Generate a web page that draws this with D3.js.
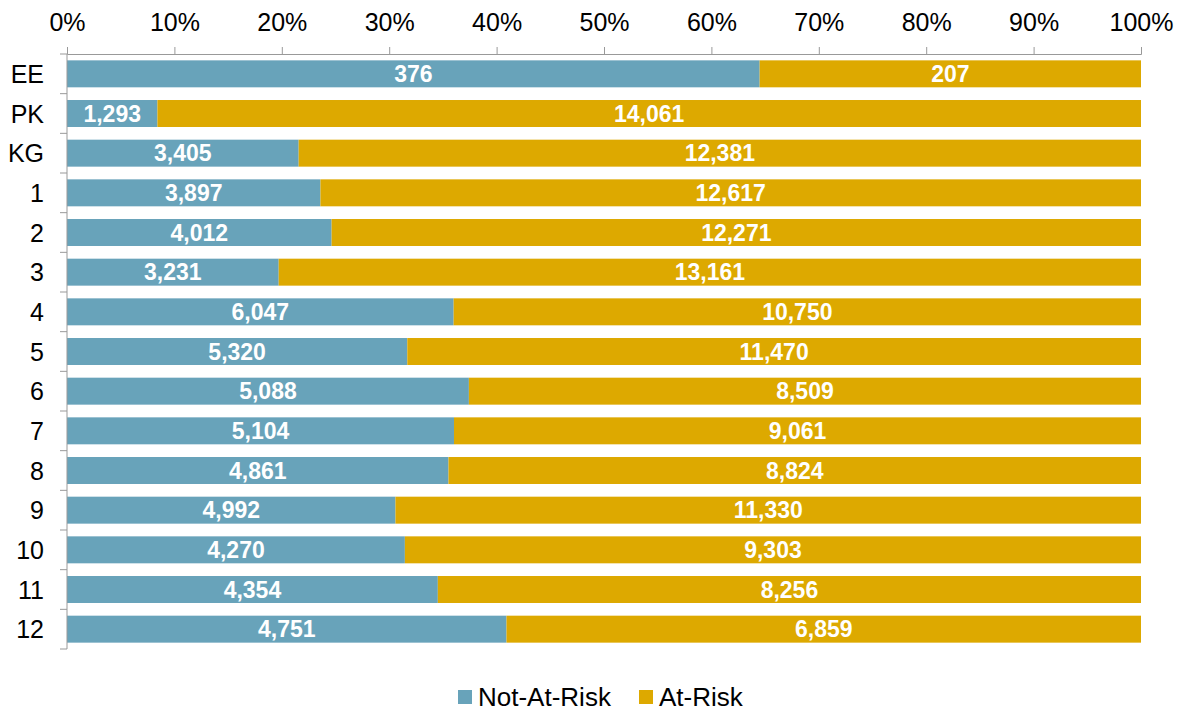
<!DOCTYPE html>
<html>
<head>
<meta charset="utf-8">
<script src="https://cdn.jsdelivr.net/npm/d3@7"></script>
<style>
  body { margin: 0; background: #fff; }
  svg text { font-family: "Liberation Sans", Arial, sans-serif; }
</style>
</head>
<body>
<svg id="chart" width="1181" height="713"></svg>
<script>
// grades and counts
var grades = ["EE", "PK", "KG", "1", "2", "3", "4", "5", "6", "7", "8", "9", "10", "11", "12"];
var notAtRisk = [376, 1293, 3405, 3897, 4012, 3231, 6047, 5320, 5088, 5104, 4861, 4992, 4270, 4354, 4751];
var atRisk = [207, 14061, 12381, 12617, 12271, 13161, 10750, 11470, 8509, 9061, 8824, 11330, 9303, 8256, 6859];
var seriesNames = ["Not-At-Risk", "At-Risk"];
var colors = ["#68A3BA", "#DDA900"];
var pctTicks = [0, 0.1, 0.2, 0.3, 0.4, 0.5, 0.6, 0.7, 0.8, 0.9, 1];

var svg = d3.select("#chart");
var plotL = 67, plotR = 1141, plotT = 54, plotB = 649;

var x = d3.scaleLinear().domain([0, 1]).range([plotL, plotR]);
var y = d3.scaleBand().domain(grades).range([plotT, plotB]).paddingInner(0.32).paddingOuter(0.16);

/* build rows with shares for stacking */
var rows = grades.map(function(g, i) {
  var tot = notAtRisk[i] + atRisk[i];
  return { grade: g, vals: [notAtRisk[i], atRisk[i]], shares: [notAtRisk[i] / tot, atRisk[i] / tot] };
});

var segs = [];
rows.forEach(function(r) {
  var x0 = 0;
  for (var k = 0; k < 2; k++) {
    segs.push({ grade: r.grade, k: k, v: r.vals[k], s0: x0, s1: x0 + r.shares[k] });
    x0 += r.shares[k];
  }
});

svg.selectAll("rect.bar")
  .data(segs)
  .enter().append("rect")
  .attr("class", "bar")
  .attr("x", function(d) { return x(d.s0); })
  .attr("width", function(d) { return x(d.s1) - x(d.s0); })
  .attr("y", function(d) { return y(d.grade); })
  .attr("height", y.bandwidth())
  .attr("fill", function(d) { return colors[d.k]; });

svg.selectAll("text.val")
  .data(segs)
  .enter().append("text")
  .attr("class", "val")
  .attr("x", function(d) { return (x(d.s0) + x(d.s1)) / 2; })
  .attr("y", function(d) { return y(d.grade) + y.bandwidth() / 2; })
  .attr("dy", "0.36em")
  .attr("text-anchor", "middle")
  .attr("fill", "#fff")
  .attr("font-weight", "bold")
  .attr("font-size", "23px")
  .text(function(d) { return d3.format(",")(d.v); });

/* top axis */
var xAxis = svg.append("g")
  .attr("transform", "translate(0," + plotT + ")")
  .call(d3.axisTop(x).tickValues(pctTicks).tickFormat(d3.format(".0%")).tickSize(7).tickPadding(16));
xAxis.select(".domain").attr("stroke", "#999");
xAxis.selectAll(".tick line").attr("stroke", "#999");
xAxis.selectAll(".tick text").attr("font-size", "25px").attr("fill", "#000");

/* left axis with ticks between categories */
var yAxis = svg.append("g").attr("transform", "translate(" + plotL + ",0)");
yAxis.append("line").attr("x1", 0).attr("x2", 0).attr("y1", plotT).attr("y2", plotB).attr("stroke", "#999");
var bounds = d3.range(grades.length + 1).map(function(i) { return plotT + i * (plotB - plotT) / grades.length; });
yAxis.selectAll("line.tk").data(bounds).enter().append("line")
  .attr("class", "tk")
  .attr("x1", -7).attr("x2", 0)
  .attr("y1", function(d) { return d; }).attr("y2", function(d) { return d; })
  .attr("stroke", "#999");
yAxis.selectAll("text").data(grades).enter().append("text")
  .attr("x", -23)
  .attr("y", function(d) { return y(d) + y.bandwidth() / 2; })
  .attr("dy", "0.36em")
  .attr("text-anchor", "end")
  .attr("font-size", "25px")
  .attr("fill", "#000")
  .text(function(d) { return d; });

/* legend */
var legendX = [458, 639];
var lg = svg.selectAll("g.lg").data(seriesNames).enter().append("g")
  .attr("class", "lg")
  .attr("transform", function(d, i) { return "translate(" + legendX[i] + ",690)"; });
lg.append("rect").attr("width", 14).attr("height", 14).attr("fill", function(d, i) { return colors[i]; });
lg.append("text").attr("x", 20).attr("y", 7).attr("dy", "0.36em")
  .attr("font-size", "26px").attr("fill", "#000")
  .text(function(d) { return d; });
</script>
</body>
</html>
